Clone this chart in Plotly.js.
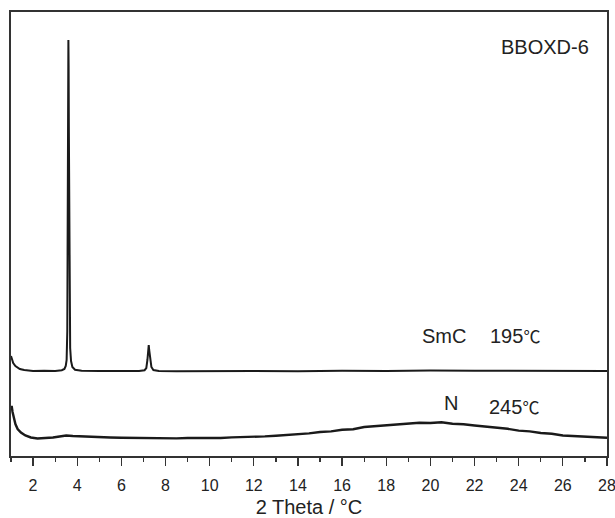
<!DOCTYPE html>
<html><head><meta charset="utf-8">
<script src="https://cdn.plot.ly/plotly-3.0.1.min.js"></script>
<style>html,body{margin:0;padding:0;background:#fff}#chart{width:615px;height:518px}</style>
</head><body><div id="chart"></div>
<script>
// SmC 195 ℃ pattern (2θ, intensity a.u.)
const smcX = [1.0,1.05,1.1,1.2,1.3,1.4,1.6,1.8,2.0,2.5,3.0,3.3,3.42,3.48,3.52,3.55,3.57,3.59,3.6,3.61,3.62,3.635,3.65,3.68,3.72,3.78,3.9,4.2,5.0,6.0,6.8,7.05,7.13,7.18,7.22,7.24,7.26,7.3,7.36,7.45,7.7,8.5,10,12,14,16,18,20,22,24,26,28];
const smcY = [1000,960,930,900,885,870,860,855,850,852,850,858,870,900,960,1250,2300,3700,4160,3900,3300,2300,1500,1080,950,890,862,852,850,848,850,858,880,960,1080,1110,1060,960,890,860,850,848,852,850,847,853,850,855,852,849,851,850];
// N 245 ℃ pattern
const nX = [1.0,1.03,1.07,1.12,1.2,1.3,1.45,1.65,1.9,2.2,2.5,2.9,3.2,3.5,3.8,4.2,4.8,5.5,6.0,6.5,7.0,7.5,8.0,8.5,9.0,9.5,10.0,10.5,11.0,11.5,12.0,12.5,13.0,13.5,14.0,14.5,15.0,15.5,16.0,16.5,17.0,17.5,18.0,18.5,19.0,19.5,20.0,20.5,21.0,21.5,22.0,22.5,23.0,23.5,24.0,24.5,25.0,25.5,26.0,26.5,27.0,27.5,28.0];
const nY = [480,500,440,380,320,270,235,205,185,175,178,185,195,205,200,195,192,185,182,180,178,175,178,176,180,178,182,180,186,188,193,196,202,208,220,226,240,246,262,268,290,298,312,318,325,332,330,338,322,318,305,296,282,272,254,246,230,222,205,200,190,188,182];
const xTickVals = [2,4,6,8,10,12,14,16,18,20,22,24,26,28];
const xTickText = ["2","4","6","8","10","12","14","16","18","20","22","24","26","28"];

const traces = [
  {x: smcX, y: smcY, type:'scatter', mode:'lines', line: {color:'#1a1a1a', width:2}, hoverinfo:'skip'},
  {x: nX, y: nY, type:'scatter', mode:'lines', line: {color:'#1a1a1a', width:2.4}, hoverinfo:'skip'}
];
const tfont = {family:'Liberation Sans, Arial, sans-serif', size:20, color:'#222'};
const cjk = "<span style='font-family:\"Noto Sans CJK SC\";font-size:17px'>℃</span>";
const layout = {
  width:615, height:518,
  margin:{l:11, r:8, t:12, b:62},
  paper_bgcolor:'#fff', plot_bgcolor:'#fff',
  showlegend:false,
  font:{family:'Liberation Sans, Arial, sans-serif', color:'#222'},
  xaxis:{
    range:[1,28], tickvals:xTickVals, ticktext:xTickText,
    ticks:'outside', ticklen:8, tickwidth:1.3, tickcolor:'#333',
    minor:{dtick:1, tick0:1, ticks:'outside', ticklen:4, tickwidth:1.3, tickcolor:'#333'},
    showline:true, linecolor:'#333', linewidth:1.6, mirror:true,
    showgrid:false, zeroline:false,
    ticklabeloverflow:'allow', ticklabelstandoff:6,
    tickfont:{family:'Liberation Sans, Arial, sans-serif', size:16, color:'#222'},
    title:{text:'2 Theta / °C', font:{family:'Liberation Sans, Arial, sans-serif', size:20, color:'#222'}, standoff:8}
  },
  yaxis:{
    range:[0,4440], showticklabels:false, ticks:'',
    showline:true, linecolor:'#333', linewidth:1.6, mirror:true,
    showgrid:false, zeroline:false
  },
  annotations:[
    {x:25.19, y:4095, xref:'x', yref:'y', text:'BBOXD-6', showarrow:false, font:tfont},
    {x:20.6, y:1205, xref:'x', yref:'y', text:'SmC', showarrow:false, font:tfont},
    {x:23.85, y:1205, xref:'x', yref:'y', text:'195'+cjk, showarrow:false, font:tfont},
    {x:20.95, y:535, xref:'x', yref:'y', text:'N', showarrow:false, font:tfont},
    {x:23.8, y:495, xref:'x', yref:'y', text:'245'+cjk, showarrow:false, font:tfont}
  ]
};
Plotly.newPlot('chart', traces, layout, {staticPlot:true, displayModeBar:false});
</script></body></html>
